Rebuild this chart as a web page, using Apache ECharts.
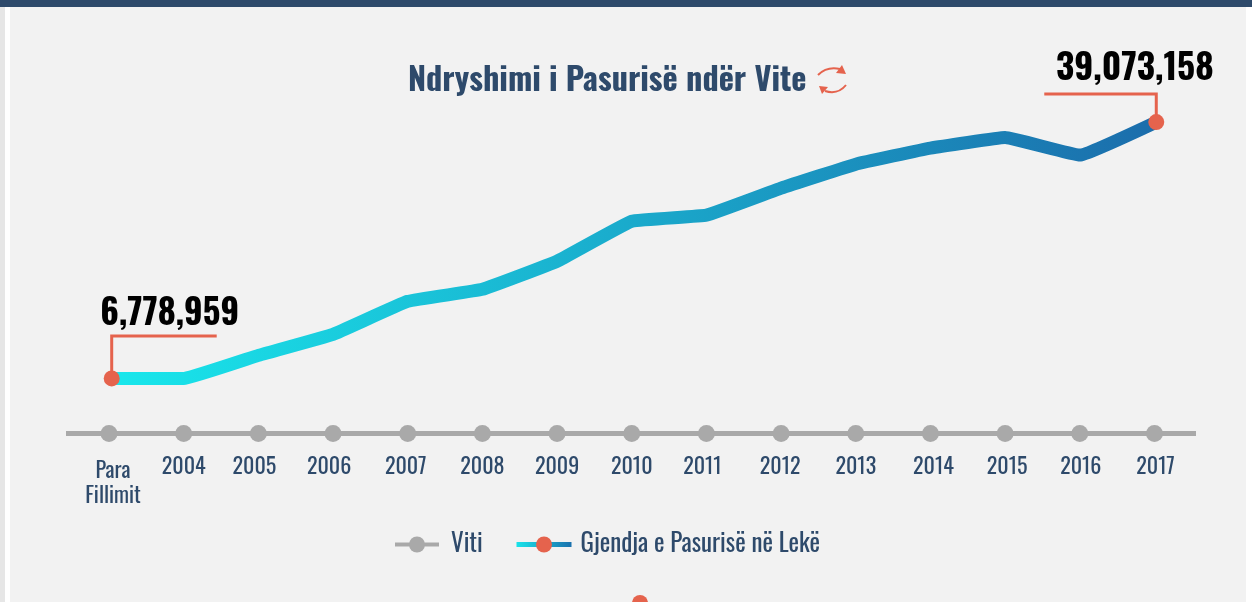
<!DOCTYPE html>
<html lang="sq">
  <head>
    <meta charset="UTF-8" />
    <title>Ndryshimi i Pasurisë ndër Vite</title>
    <script src="https://cdn.jsdelivr.net/npm/echarts@6/dist/echarts.min.js"></script>
    <style>
      html, body { margin: 0; padding: 0; background: #f2f2f2; }
      #main { width: 1252px; height: 602px; }
    </style>
  </head>
  <body>
    <div id="main"></div>
    <script type="text/javascript">
      var categories = ['Para\nFillimit', '2004', '2005', '2006', '2007', '2008', '2009', '2010', '2011', '2012', '2013', '2014', '2015', '2016', '2017']
      var yearSlots = [0, 1, 2, 3, 4, 5, 6, 7, 8, 9, 10, 11, 12, 13, 14]
      // the wealth line sits a little off the year dots at both ends
      var wealthSlots = [0.036, 1, 2, 3, 4, 5, 6, 7, 8, 9, 10, 11, 12, 13, 14.024]
      var wealth = [6778959, 6778959, 9680000, 12330000, 16490000, 18000000, 21540000, 26580000, 27340000, 30750000, 33770000, 35790000, 37120000, 34910000, 39073158]
      // tick labels in the original are not quite centred on their dots
      var labelShift = [4, 0, -4, -4, -2, 0, 0, 0, -4, -1, 0, 3, 2, 1, 1]

      var NARROW = 'Oswald, "Roboto Condensed", sans-serif'
      var NAVY = '#2e4a6b'
      var RED = '#e5634d'
      var GREY = '#a9a9a9'

      var myChart = echarts.init(document.getElementById('main'))

      var lineGradient = new echarts.graphic.LinearGradient(0, 0, 1, 0, [
        { offset: 0, color: '#19e8ec' },
        { offset: 1, color: '#1b6cab' }
      ])

      // one rich style per tick, padding on one side pushes the text the other way
      var tickRich = {}
      labelShift.forEach(function (dx, i) {
        tickRich['t' + i] = {
          fontFamily: NARROW,
          fontSize: 22,
          lineHeight: 25,
          color: NAVY,
          padding: [i === 0 ? 8 : 0, dx < 0 ? -2 * dx : 0, 0, dx > 0 ? 2 * dx : 0]
        }
      })

      var wealthData = wealth.map(function (v, i) {
        var item = { value: [wealthSlots[i], v], symbol: 'none' }
        if (i === 0 || i === wealth.length - 1) {
          item.symbol = 'circle'
          item.label = {
            show: true,
            position: 'top',
            fontSize: i === 0 ? 34.7 : 35.5,
            offset: i === 0 ? [58, -34] : [-21.5, -22]
          }
        }
        return item
      })

      myChart.setOption({
        animation: false,
        backgroundColor: '#f2f2f2',
        title: {
          text: 'Ndryshimi i Pasurisë ndër Vite',
          left: 408,
          top: 65,
          padding: 0,
          textStyle: { fontFamily: NARROW, fontSize: 32.3, fontWeight: 'bold', color: NAVY }
        },
        legend: [
          {
            data: ['Viti'],
            left: 393,
            top: 532,
            padding: 0,
            itemWidth: 44,
            itemHeight: 20,
            lineStyle: { width: 4 },
            textStyle: { fontFamily: NARROW, fontSize: 25, color: NAVY, padding: [8, 0, 0, 7] }
          },
          {
            data: ['Gjendja e Pasurisë në Lekë'],
            left: 514,
            top: 532,
            padding: 0,
            itemWidth: 55,
            itemHeight: 20,
            lineStyle: { width: 5 },
            textStyle: { fontFamily: NARROW, fontSize: 25, color: NAVY, padding: [8, 0, 0, 4] }
          }
        ],
        grid: { left: 66, right: 56, top: 47, bottom: 168.5 },
        xAxis: {
          type: 'value',
          min: -0.576,
          max: 14.556,
          splitLine: { show: false },
          axisTick: { show: false },
          axisLine: { show: true, onZero: false, lineStyle: { color: GREY, width: 5, cap: 'butt' } },
          axisLabel: {
            customValues: yearSlots,
            margin: 21,
            formatter: function (v) {
              return categories[v].split('\n').map(function (s) {
                return '{t' + v + '|' + s + '}'
              }).join('\n')
            },
            rich: tickRich
          }
        },
        yAxis: [
          { type: 'value', min: -160000, max: 48530000, show: false },
          { type: 'value', min: 0, max: 1, show: false }
        ],
        series: [
          {
            name: 'Viti',
            type: 'line',
            yAxisIndex: 1,
            data: yearSlots.map(function (x) { return [x, 0] }),
            symbol: 'circle',
            symbolSize: 17,
            clip: false,
            itemStyle: { color: GREY },
            lineStyle: { color: GREY, width: 5 }
          },
          {
            name: 'Gjendja e Pasurisë në Lekë',
            type: 'line',
            data: wealthData,
            symbol: 'circle',
            symbolSize: 16,
            smooth: 0.08,
            clip: false,
            z: 3,
            itemStyle: { color: RED },
            lineStyle: { color: lineGradient, width: 13, join: 'round', cap: 'butt' },
            label: {
              fontFamily: NARROW,
              fontSize: 35.5,
              fontWeight: 'bold',
              color: '#000',
              formatter: function (p) { return p.value[1].toLocaleString('en-US') }
            }
          }
        ]
      })

      // frame of the page, title icon and the callouts next to the first and last point
      var first = myChart.convertToPixel({ xAxisIndex: 0, yAxisIndex: 0 }, [wealthSlots[0], wealth[0]])
      var last = myChart.convertToPixel({ xAxisIndex: 0, yAxisIndex: 0 }, [wealthSlots[14], wealth[14]])
      var calloutStyle = { stroke: RED, lineWidth: 3, fill: null }
      var iconStroke = { stroke: RED, lineWidth: 2, fill: null }

      myChart.setOption({
        graphic: [
          { type: 'rect', silent: true, shape: { x: 0, y: 0, width: 5, height: 602 }, style: { fill: '#e6e6e6' } },
          { type: 'rect', silent: true, shape: { x: 5, y: 0, width: 5, height: 602 }, style: { fill: '#ffffff' } },
          { type: 'rect', silent: true, shape: { x: 1246, y: 0, width: 6, height: 602 }, style: { fill: '#ffffff' } },
          { type: 'rect', silent: true, shape: { x: 0, y: 0, width: 1252, height: 7 }, style: { fill: NAVY } },
          { type: 'circle', silent: true, shape: { cx: 640, cy: 603, r: 8 }, style: { fill: RED } },
          {
            type: 'polyline',
            silent: true,
            z: 1,
            shape: { points: [[first[0], first[1]], [first[0], first[1] - 42.5], [first[0] + 105, first[1] - 42.5]] },
            style: calloutStyle
          },
          {
            type: 'polyline',
            silent: true,
            z: 1,
            shape: { points: [[last[0], last[1]], [last[0], last[1] - 28], [last[0] - 112, last[1] - 28]] },
            style: calloutStyle
          },
          {
            type: 'bezierCurve',
            silent: true,
            shape: { x1: 818, y1: 75, cpx1: 827, cpy1: 66, x2: 840, y2: 69 },
            style: iconStroke
          },
          {
            type: 'polygon',
            silent: true,
            shape: { points: [[846, 74], [842, 65], [836, 73]] },
            style: { fill: RED }
          },
          {
            type: 'bezierCurve',
            silent: true,
            shape: { x1: 846, y1: 85, cpx1: 838, cpy1: 95, x2: 825, y2: 91 },
            style: iconStroke
          },
          {
            type: 'polygon',
            silent: true,
            shape: { points: [[819, 86], [822, 94], [828, 87]] },
            style: { fill: RED }
          }
        ]
      })
    </script>
  </body>
</html>
